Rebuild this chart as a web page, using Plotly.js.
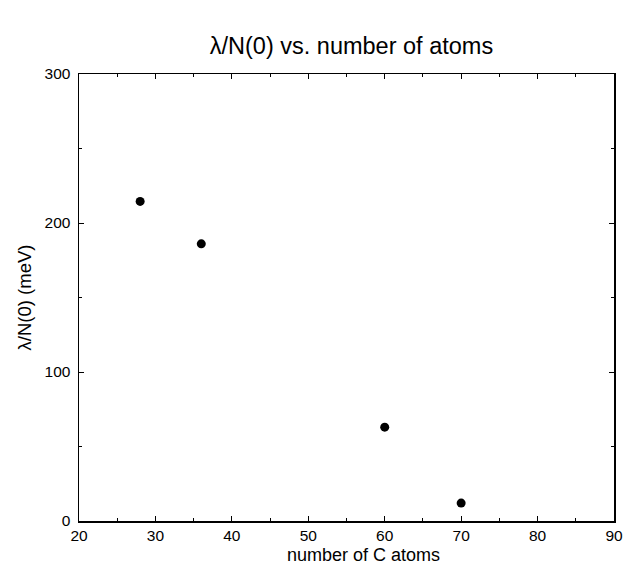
<!DOCTYPE html>
<html><head><meta charset="utf-8">
<script src="https://cdn.plot.ly/plotly-3.0.1.min.js"></script>
<style>html,body{margin:0;padding:0;background:#fff}#chart{width:631px;height:564px}</style>
</head><body><div id="chart"></div>
<script>
var atoms = [28, 36, 60, 70];
var lambdaN0 = [214.5, 186, 63, 12];
var xTicks = [20, 30, 40, 50, 60, 70, 80, 90];
var yTicks = [0, 100, 200, 300];

var font = "Liberation Sans, Arial, sans-serif";
var trace = {
  x: atoms, y: lambdaN0, type: 'scatter', mode: 'markers',
  marker: {color: '#000', size: 9}, showlegend: false, cliponaxis: false
};
var axisCommon = {
  showgrid: false, zeroline: false, showline: true, mirror: 'ticks',
  linecolor: '#000', linewidth: 1.5, ticks: 'inside', ticklen: 5, tickwidth: 1,
  tickcolor: '#000', tickfont: {family: font, size: 15.5, color: '#000'}
};
var layout = {
  width: 631, height: 564,
  margin: {l: 79, r: 17, t: 74, b: 43},
  paper_bgcolor: '#fff', plot_bgcolor: '#fff',
  title: {text: 'λ/N(0) vs. number of atoms', x: 0.557, xanchor: 'center', y: 0.918, yanchor: 'middle',
          font: {family: font, size: 23.5, color: '#000'}},
  xaxis: Object.assign({}, axisCommon, {
    range: [20, 90], tickvals: xTicks, ticktext: xTicks.map(String), ticklabelstandoff: 0,
    minor: {dtick: 5, ticks: 'inside', ticklen: 3, tickcolor: '#000'}
  }),
  yaxis: Object.assign({}, axisCommon, {
    range: [0, 300], tickvals: yTicks, ticktext: yTicks.map(String), ticklabelstandoff: 4,
    minor: {dtick: 50, ticks: 'inside', ticklen: 3, tickcolor: '#000'},
    title: {text: 'λ/N(0) (meV)', standoff: 8, font: {family: font, size: 18.5, color: '#000'}}
  }),
  annotations: [{
    text: 'number of C atoms', xref: 'paper', yref: 'paper', x: 0.531, y: -0.075,
    xanchor: 'center', yanchor: 'middle', showarrow: false,
    font: {family: font, size: 18, color: '#000'}
  }]
};
Plotly.newPlot('chart', [trace], layout, {staticPlot: true});
</script></body></html>
